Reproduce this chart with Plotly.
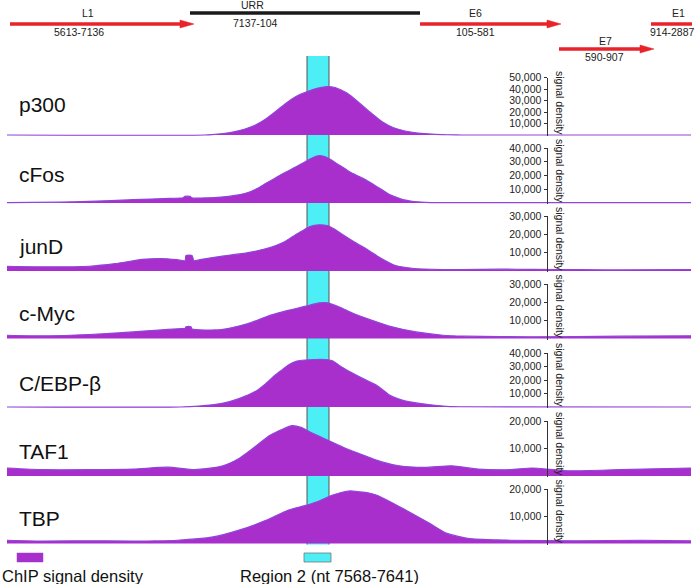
import plotly.graph_objects as go

# ---------------- data ----------------
TRACKS = ["p300", "cFos", "junD", "c-Myc", "C/EBP-β", "TAF1", "TBP"]

# positions are in schematic track units (0 .. 696 across the map)
p300_pos = [7, 205, 215, 225, 235, 245, 255, 265, 275, 285, 296, 308, 318, 327, 335, 347, 360, 372, 383, 393, 405, 418, 432, 447, 462, 691]
p300_val = [0, 0, 600, 1500, 3000, 5200, 8500, 13500, 20000, 27000, 33500, 38000, 40800, 42000, 41300, 36500, 27500, 18500, 11000, 6500, 3500, 1700, 700, 200, 0, 0]

cfos_pos = [7, 60, 89, 133, 170, 183, 185, 190, 192, 200, 221, 235, 248, 257, 266, 275, 283, 290, 297, 304, 310, 316, 320, 326, 332, 337, 344, 350, 357, 363, 370, 377, 384, 390, 397, 403, 412, 425, 440, 691]
cfos_val = [300, 600, 1200, 2400, 3400, 3800, 4800, 4800, 3700, 3600, 4300, 5500, 7600, 10500, 14300, 18000, 21400, 24000, 26700, 29500, 32000, 34000, 34500, 33500, 31000, 28600, 25500, 22600, 20000, 17900, 15000, 11900, 8800, 6000, 4000, 2400, 1200, 500, 300, 300]

jund_pos = [7, 50, 89, 115, 142, 160, 177, 185, 186, 192, 194, 200, 221, 248, 270, 283, 292, 301, 310, 319, 328, 334, 341, 354, 368, 381, 394, 412, 443, 500, 532, 580, 620, 691]
jund_val = [2600, 2300, 2600, 4000, 6300, 6800, 6200, 5600, 8500, 8500, 5600, 6200, 8000, 10000, 12800, 15500, 18500, 21500, 24300, 25200, 24700, 23000, 20500, 16000, 11500, 6900, 3300, 1500, 800, 1000, 900, 700, 600, 800]

cmyc_pos = [7, 44, 89, 133, 155, 182, 185, 186, 191, 192, 221, 248, 270, 288, 306, 319, 328, 341, 354, 372, 390, 416, 443, 465, 532, 620, 691]
cmyc_val = [1800, 1500, 2200, 3600, 4500, 5500, 5600, 6500, 6500, 5200, 4900, 8200, 12700, 15500, 17800, 19600, 19600, 16900, 13600, 10000, 6700, 3600, 1800, 1300, 900, 1300, 1500]

cebp_pos = [7, 180, 199, 221, 239, 257, 266, 275, 282, 288, 297, 310, 328, 333, 337, 343, 350, 363, 377, 385, 390, 403, 421, 443, 460, 691]
cebp_val = [0, 0, 700, 2500, 6200, 12300, 17500, 23500, 27500, 30900, 34000, 35000, 35000, 34000, 32000, 29000, 26000, 21000, 16000, 11500, 8600, 4900, 2500, 700, 200, 0]

taf1_pos = [7, 44, 89, 133, 168, 195, 221, 239, 257, 270, 283, 292, 301, 310, 328, 346, 363, 381, 399, 425, 452, 478, 510, 532, 567, 620, 691]
taf1_val = [2900, 2300, 2300, 2500, 3200, 2300, 3500, 6400, 11200, 14800, 17100, 18300, 17700, 16000, 13000, 10000, 7600, 5200, 3700, 3100, 3700, 2500, 2300, 2900, 1900, 2300, 2900]

tbp_pos = [7, 44, 89, 133, 177, 213, 239, 266, 288, 306, 319, 332, 342, 350, 359, 368, 377, 394, 412, 430, 447, 470, 510, 576, 642, 691]
tbp_val = [1200, 900, 1000, 900, 1200, 2400, 4900, 8500, 12200, 14000, 15600, 17700, 18800, 19300, 19000, 18600, 17700, 14600, 11000, 7300, 3700, 1800, 1200, 1000, 1200, 1000]

TRACK_POS = [p300_pos, cfos_pos, jund_pos, cmyc_pos, cebp_pos, taf1_pos, tbp_pos]
TRACK_VAL = [p300_val, cfos_val, jund_val, cmyc_val, cebp_val, taf1_val, tbp_val]
TRACK_TICKS = [[10000, 20000, 30000, 40000, 50000],
               [10000, 20000, 30000, 40000],
               [10000, 20000, 30000],
               [10000, 20000, 30000],
               [10000, 20000, 30000, 40000],
               [10000, 20000],
               [10000, 20000]]

GENE_NAMES = ["L1", "URR", "E6", "E7", "E1"]
GENE_RANGES = ["5613-7136", "7137-104", "105-581", "590-907", "914-2887"]
GENE_START = [10, 190, 420, 559, 651]
GENE_END = [194, 420, 561, 654, 692]
GENE_KIND = ["arrow", "region", "arrow", "arrow", "bar"]

REGION_NAME = "Region 2 (nt 7568-7641)"
REGION_SPAN = [307, 329]
SIGNAL_NAME = "ChIP signal density"

# ---------------- layout constants (pixels) ----------------
W, H = 696, 584
BASE_PX = [135, 203, 271, 338.5, 407, 476, 543.5]
TOP_PX = [77.5, 148, 216, 284, 353, 421, 489]
LABEL_PX = [104, 175, 246, 313, 383, 451, 518]
AXIS_X = 546.5
FONT = "Arial, Liberation Sans, sans-serif"
PURPLE = "#A82FCB"
EDGE = "#8F45DA"
CYAN = "#4DEFF7"
RED = "#E8232A"

# gene track styling
GENE_Y = {"L1": 24, "URR": 13, "E6": 24, "E7": 49, "E1": 24}
NAME_LBL = {"L1": (88, 13), "URR": (252, 4.5), "E6": (475, 13), "E7": (605, 41.5), "E1": (678, 13)}
RANGE_LBL = {"L1": (79, 31.5), "URR": (255, 23.5), "E6": (475, 31.5), "E7": (604, 57.5), "E1": (672, 31.5)}


def py(p):
    return 1 - p / H


def pxx(p):
    return p / W


fig = go.Figure()
layout = dict(
    width=W, height=H, margin=dict(l=0, r=0, t=0, b=0),
    template="none", paper_bgcolor="white", plot_bgcolor="rgba(0,0,0,0)",
    showlegend=False, font=dict(family=FONT, color="#222"),
    xaxis=dict(domain=[0, 1], range=[0, W], visible=False, fixedrange=True),
)

annotations = []
shapes = []

for i, name in enumerate(TRACKS):
    yname = "y" if i == 0 else f"y{i + 1}"
    key = "yaxis" if i == 0 else f"yaxis{i + 1}"
    top_val = TRACK_TICKS[i][-1]
    units_per_px = top_val / (BASE_PX[i] - TOP_PX[i])
    lo = -1.0 * units_per_px
    fig.add_trace(go.Scatter(
        x=TRACK_POS[i], y=TRACK_VAL[i], mode="lines", fill="tozeroy",
        fillcolor=PURPLE, line=dict(color=EDGE, width=1.2, shape="spline", smoothing=0.6),
        xaxis="x", yaxis=yname, hoverinfo="skip"))
    layout[key] = dict(
        domain=[py(BASE_PX[i] + 1), py(TOP_PX[i])], range=[lo, top_val],
        anchor="free", position=pxx(AXIS_X), side="left",
        showline=True, linecolor="#333", linewidth=1,
        ticks="outside", ticklen=3, tickwidth=1, tickcolor="#333",
        tickvals=TRACK_TICKS[i], tickformat=",", tickfont=dict(size=10.5, family=FONT, color="#222"),
        showgrid=False, zeroline=False, fixedrange=True)
    annotations.append(dict(
        xref="paper", yref="paper", x=pxx(17), y=py(LABEL_PX[i]), xanchor="left", yanchor="middle",
        text=name, showarrow=False, font=dict(size=21, family=FONT, color="#111")))
    annotations.append(dict(
        xref="paper", yref="paper", x=pxx(560), y=py(BASE_PX[i] - 32), xanchor="center", yanchor="middle",
        text="signal density", textangle=90, showarrow=False, font=dict(size=10.5, family=FONT, color="#222")))

# region 2 column (fill + side outlines)
shapes.append(dict(type="rect", xref="x", yref="paper", x0=REGION_SPAN[0], x1=REGION_SPAN[1],
                   y0=py(BASE_PX[-1] + 1), y1=py(56), fillcolor=CYAN,
                   line=dict(width=0), layer="below"))
for xe in REGION_SPAN:
    shapes.append(dict(type="line", xref="x", yref="paper", x0=xe, x1=xe,
                       y0=py(BASE_PX[-1] + 1), y1=py(56), line=dict(color="#555", width=1), layer="below"))

# gene annotations
HEAD = 14
for g, rng, s, e, kind in zip(GENE_NAMES, GENE_RANGES, GENE_START, GENE_END, GENE_KIND):
    yy = GENE_Y[g]
    if kind == "region":
        shapes.append(dict(type="line", xref="x", yref="paper", x0=s, x1=e, y0=py(yy), y1=py(yy),
                           line=dict(color="#1a1a1a", width=3.5)))
    elif kind == "bar":
        shapes.append(dict(type="line", xref="x", yref="paper", x0=s, x1=e, y0=py(yy), y1=py(yy),
                           line=dict(color=RED, width=3.5)))
    else:
        shapes.append(dict(type="line", xref="x", yref="paper", x0=s, x1=e - HEAD + 1, y0=py(yy), y1=py(yy),
                           line=dict(color=RED, width=3.5)))
        path = f"M {e - HEAD},{py(yy - 4)} L {e},{py(yy)} L {e - HEAD},{py(yy + 4)} Z"
        shapes.append(dict(type="path", xref="x", yref="paper", path=path, fillcolor=RED,
                           line=dict(color=RED, width=0.5)))
    nx, ny = NAME_LBL[g]
    annotations.append(dict(xref="x", yref="paper", x=nx, y=py(ny), text=g, showarrow=False,
                            xanchor="center", yanchor="middle", font=dict(size=10.5, family=FONT, color="#222")))
    rx, ry = RANGE_LBL[g]
    annotations.append(dict(xref="x", yref="paper", x=rx, y=py(ry), text=rng, showarrow=False,
                            xanchor="center", yanchor="middle", font=dict(size=10.5, family=FONT, color="#222")))

# legend
shapes.append(dict(type="rect", xref="paper", yref="paper", x0=pxx(17), x1=pxx(43), y0=py(562), y1=py(553),
                   fillcolor=PURPLE, line=dict(color=EDGE, width=0.5)))
shapes.append(dict(type="rect", xref="paper", yref="paper", x0=pxx(304), x1=pxx(331), y0=py(562), y1=py(553),
                   fillcolor=CYAN, line=dict(color="#777", width=0.8)))
annotations.append(dict(xref="paper", yref="paper", x=pxx(0), y=py(576), text=SIGNAL_NAME, showarrow=False,
                        xanchor="left", yanchor="middle", font=dict(size=16.5, family=FONT, color="#111")))
annotations.append(dict(xref="paper", yref="paper", x=pxx(238), y=py(576), text=REGION_NAME, showarrow=False,
                        xanchor="left", yanchor="middle", font=dict(size=16.5, family=FONT, color="#111")))

layout["annotations"] = annotations
layout["shapes"] = shapes
fig.update_layout(**layout)
fig.write_html("out.html", config={"displayModeBar": False},
               post_script="document.body.style.margin='0';document.body.style.overflow='hidden';")
